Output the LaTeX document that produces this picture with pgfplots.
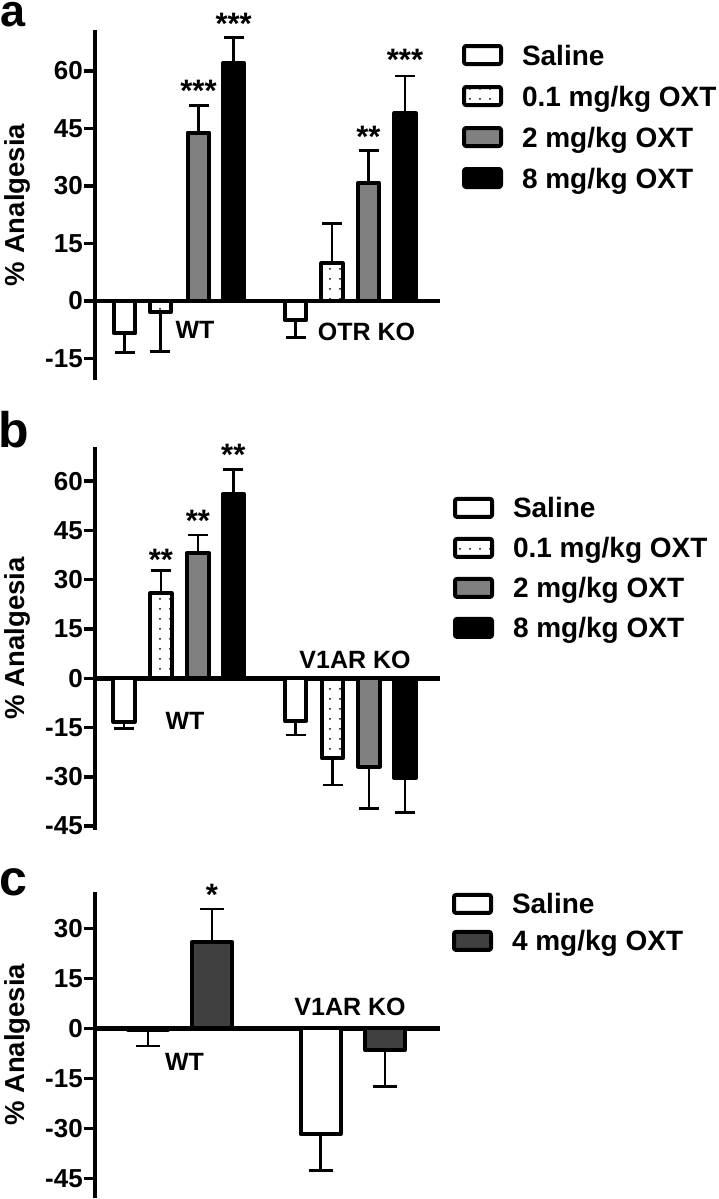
\documentclass[border=0pt]{standalone}
\usepackage{fontspec}
\setmainfont{Liberation Sans}
\usepackage{pgfplots}
\pgfplotsset{compat=1.18}
\usetikzlibrary{patterns.meta}
\definecolor{midgray}{HTML}{808080}
\definecolor{darkgray}{HTML}{404040}
\newcommand{\tickfont}{\fontsize{26}{26}\selectfont\bfseries}
\newcommand{\legfont}{\fontsize{28}{28}\selectfont\bfseries}
\newcommand{\ylabfont}{\fontsize{27.5}{28}\selectfont\bfseries}
\newcommand{\grpfont}{\fontsize{25}{26}\selectfont\bfseries}
\newcommand{\starfont}{\fontsize{31}{31}\selectfont\bfseries}
\pgfplotsset{
  panel/.style={
    scale only axis, clip=false,
    width=345pt,
    xmin=95, xmax=440,
    axis y line=left, axis x line=middle,
    axis line style={-, line width=4.5pt, black},
    xtick=\empty,
    ytick pos=left, tick align=outside,
    major tick length=11pt,
    every tick/.style={black, line width=3.5pt},
    yticklabel style={font=\tickfont, inner sep=1pt},
    ylabel={\% Analgesia},
    every axis y label/.style={at={(axis description cs:-0.226,0.5)}, rotate=90, anchor=center, font=\ylabfont},
    legend cell align=left,
    legend style={draw=none, fill=none, font=\legfont, inner sep=0pt, outer sep=0pt,
      column sep=19pt, nodes={inner sep=0pt, text height=20pt, text depth=6pt}},
  },
  barstyle/.style={ybar, bar shift=0pt, draw=black, line width=4pt, line join=round,
    legend image code/.code={\draw[##1, line width=4pt, rounded corners=2pt] (0pt,-6pt) rectangle (37pt,12pt);}},
  dotsfill/.style={pattern={Dots[distance=10pt,radius=1pt]}, pattern color=black},
  errplot/.style 2 args={forget plot, draw=none, mark=none, error bars/.cd, y explicit, y dir=#1,
    error bar style={line width=2.8pt, black}, error mark=-, error mark options={rotate=90, line width=2.8pt, black, mark size=#2}},
}
\begin{document}
\begin{tikzpicture}
\path[use as bounding box] (0pt,0pt) rectangle (718pt,-1199pt);
% ---------------- panel a
\begin{axis}[panel, at={(95pt,-30pt)}, anchor=north west, height=350pt,
  ymin=-20.6, ymax=70.7, ytick={-15,0,15,30,45,60}, yticklabels={-15,0,15,30,45,60},
  legend style={at={(1,1)}, anchor=north west, xshift=22pt, yshift=-14pt, row sep=14pt}]
\addplot[barstyle, bar width=21.5pt, fill=white] coordinates {(124.7,-8.4) (295.5,-5.0)};
\addlegendentry{Saline}
\addplot[barstyle, bar width=21.5pt, dotsfill] coordinates {(160.5,-2.8) (332,9.8)};
\addlegendentry{0.1 mg/kg OXT}
\addplot[barstyle, bar width=21.5pt, fill=midgray] coordinates {(198.5,43.9) (368.5,30.7)};
\addlegendentry{2 mg/kg OXT}
\addplot[barstyle, bar width=21.5pt, fill=black] coordinates {(233.7,62.0) (405,49.0)};
\addlegendentry{8 mg/kg OXT}
\addplot[errplot={minus}{10pt}] coordinates {(124.7,-8.4) +- (0,5.1) (160.5,-2.8) +- (0,10.4) (295.5,-5.0) +- (0,4.6)};
\addplot[errplot={plus}{10pt}] coordinates {(198.5,43.9) +- (0,7.2) (233.7,62.0) +- (0,6.8) (332,9.8) +- (0,10.5) (368.5,30.7) +- (0,8.5) (405,49.0) +- (0,9.7)};
\node[anchor=base, font=\starfont, yshift=4pt] at (axis cs:198.5,51.1) {***};
\node[anchor=base, font=\starfont, yshift=3pt] at (axis cs:233.7,68.8) {***};
\node[anchor=base, font=\starfont, yshift=3pt] at (axis cs:368.5,39.2) {**};
\node[anchor=base, font=\starfont, yshift=6pt] at (axis cs:405,58.7) {***};
\node[anchor=base, font=\grpfont] at (axis cs:195,-9.65) {WT};
\node[anchor=base, font=\grpfont] at (axis cs:366.5,-10.2) {OTR KO};
\end{axis}
% ---------------- panel b
\begin{axis}[panel, at={(95pt,-446.7pt)}, anchor=north west, height=383.3pt,
  ymin=-46.2, ymax=70.5, ytick={-45,-30,-15,0,15,30,45,60}, yticklabels={-45,-30,-15,0,15,30,45,60},
  legend style={at={(1,1)}, anchor=north west, xshift=13pt, yshift=-50.2pt, row sep=13pt}]
\addplot[barstyle, bar width=21.5pt, fill=white] coordinates {(124,-13.2) (295.5,-12.9)};
\addlegendentry{Saline}
\addplot[barstyle, bar width=21.5pt, dotsfill] coordinates {(161,25.9) (332.5,-24.3)};
\addlegendentry{0.1 mg/kg OXT}
\addplot[barstyle, bar width=21.5pt, fill=midgray] coordinates {(198,38.2) (369,-26.9)};
\addlegendentry{2 mg/kg OXT}
\addplot[barstyle, bar width=21.5pt, fill=black] coordinates {(233.3,56.0) (405,-30.4)};
\addlegendentry{8 mg/kg OXT}
\addplot[errplot={minus}{10pt}] coordinates {(124,-13.2) +- (0,2.0) (295.5,-12.9) +- (0,4.4) (332.5,-24.3) +- (0,8.2) (369,-26.9) +- (0,12.7) (405,-30.4) +- (0,10.4)};
\addplot[errplot={plus}{10pt}] coordinates {(161,25.9) +- (0,6.8) (198,38.2) +- (0,5.4) (233.3,56.0) +- (0,7.6)};
\node[anchor=base, font=\starfont, yshift=0pt] at (axis cs:161,32.7) {**};
\node[anchor=base, font=\starfont, yshift=4pt] at (axis cs:198,43.6) {**};
\node[anchor=base, font=\starfont, yshift=4pt] at (axis cs:233.3,63.6) {**};
\node[anchor=base, font=\grpfont] at (axis cs:185,-15.7) {WT};
\node[anchor=base, font=\grpfont] at (axis cs:355,3.0) {V1AR KO};
\end{axis}
% ---------------- panel c
\begin{axis}[panel, at={(95pt,-891.7pt)}, anchor=north west, height=306.3pt,
  ymin=-50.9, ymax=41.0, ytick={-45,-30,-15,0,15,30}, yticklabels={-45,-30,-15,0,15,30},
  legend style={at={(1,1)}, anchor=north west, xshift=12pt, yshift=-1.2pt, row sep=10pt}]
\addplot[barstyle, bar width=40pt, fill=white] coordinates {(148,-0.5) (320.5,-31.7)};
\addlegendentry{Saline}
\addplot[barstyle, bar width=40pt, fill=darkgray] coordinates {(212,26.0) (385,-6.5)};
\addlegendentry{4 mg/kg OXT}
\addplot[errplot={minus}{12pt}] coordinates {(148,-0.5) +- (0,4.8) (320.5,-31.7) +- (0,11.0) (385,-6.5) +- (0,11.0)};
\addplot[errplot={plus}{12pt}] coordinates {(212,26.0) +- (0,9.8)};
\node[anchor=base, font=\starfont, yshift=4pt] at (axis cs:212,35.8) {*};
\node[anchor=base, font=\grpfont] at (axis cs:184.5,-12.7) {WT};
\node[anchor=base, font=\grpfont] at (axis cs:350,4.0) {V1AR KO};
\end{axis}
% panel letters
\node[anchor=base west, inner sep=0pt, font=\fontsize{45}{45}\selectfont\bfseries] at (0pt,-27pt) {a};
\node[anchor=base west, inner sep=0pt, font=\fontsize{50}{50}\selectfont\bfseries] at (-2pt,-447pt) {b};
\node[anchor=base west, inner sep=0pt, font=\fontsize{50}{50}\selectfont\bfseries] at (-1pt,-895pt) {c};
\end{tikzpicture}
\end{document}
